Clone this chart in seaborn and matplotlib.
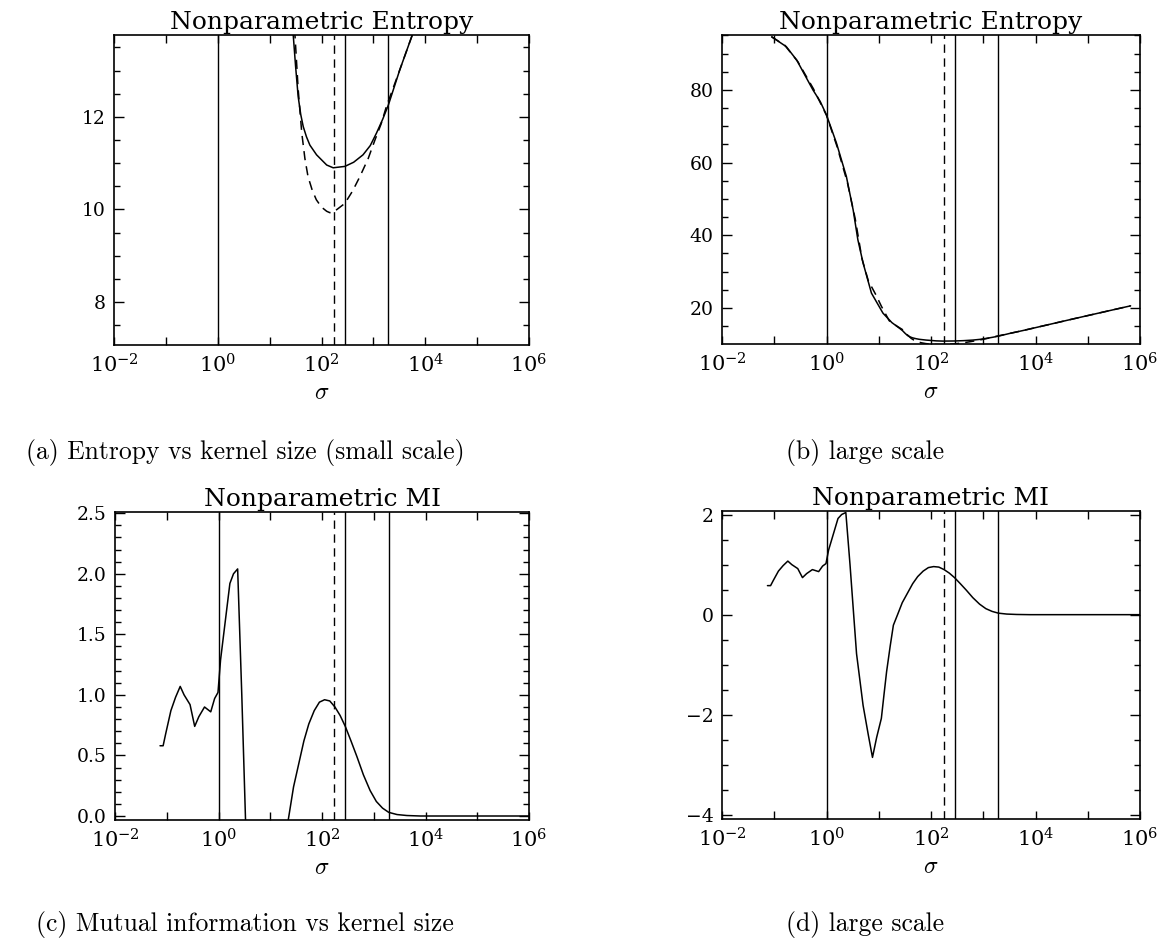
import matplotlib
matplotlib.use("Agg")
import matplotlib.pyplot as plt
import numpy as np
import pandas as pd
import seaborn as sns
from matplotlib.ticker import MultipleLocator, FixedLocator, FixedFormatter, FormatStrFormatter

# ---------------- data (log10 sigma) ----------------
ent_log_sigma = [-1.05, -0.77, -0.57, -0.26, -0.12, 0.00, 0.19, 0.38, 0.51, 0.60,
                 0.70, 0.86, 1.08, 1.25, 1.40, 1.455, 1.50, 1.55, 1.60, 1.648,
                 1.71, 1.776, 1.905, 2.10, 2.225, 2.45, 2.62, 2.80, 2.94, 3.06,
                 3.18, 3.29, 3.51, 3.75, 4.00, 4.72, 5.30, 5.82]
ent_solid = [94.6, 91.9, 88.2, 80.0, 76.8, 73.1, 65.4, 56.2, 47.0, 38.8,
             32.4, 24.1, 18.6, 16.0, 14.4, 13.77, 13.1, 12.44, 12.05, 11.79,
             11.57, 11.39, 11.18, 10.96, 10.90, 10.93, 11.02, 11.18, 11.38, 11.65,
             11.95, 12.26, 13.02, 13.77, 14.6, 17.0, 18.9, 20.6]

ent_dash_log_sigma = [-1.05, -0.80, -0.55, -0.25, 0.00, 0.20, 0.40, 0.55, 0.68, 0.80,
                      0.95, 1.05, 1.20, 1.35, 1.49, 1.55, 1.62, 1.68, 1.74, 1.82,
                      1.90, 2.00, 2.10, 2.16, 2.24, 2.45, 2.60, 2.74, 2.90, 3.03,
                      3.15, 3.25, 3.51, 3.75, 4.00, 4.72, 5.30, 5.82]
ent_dashed = [94.6, 92.3, 87.8, 80.3, 73.0, 64.5, 54.5, 44.5, 33.5, 27.5,
              23.5, 20.5, 16.5, 15.0, 13.74, 12.6, 11.65, 11.1, 10.71, 10.42,
              10.21, 10.05, 9.96, 9.93, 9.95, 10.13, 10.40, 10.71, 11.10, 11.50,
              11.85, 12.22, 13.02, 13.77, 14.6, 17.0, 18.9, 20.6]

mi_log_sigma = [-1.13, -1.07, -1.02, -0.92, -0.83, -0.74, -0.665, -0.55, -0.46, -0.38,
                -0.27, -0.15, -0.075, -0.01, 0.04, 0.14, 0.22, 0.29, 0.37, 0.45,
                0.52, 0.575, 0.70, 0.80, 0.88, 0.96, 1.05, 1.10, 1.15, 1.22,
                1.28, 1.36, 1.45, 1.55, 1.65, 1.745, 1.85, 1.95, 2.05, 2.15,
                2.25, 2.35, 2.45, 2.56, 2.675, 2.80, 2.93, 3.05, 3.17, 3.29,
                3.45, 3.64, 3.90, 5.00, 6.00]
mi_values = [0.58, 0.58, 0.68, 0.87, 0.98, 1.07, 1.00, 0.92, 0.74, 0.82,
             0.90, 0.86, 0.97, 1.02, 1.29, 1.64, 1.92, 2.00, 2.04, 1.00,
             0.00, -0.78, -1.81, -2.40, -2.85, -2.45, -2.07, -1.60, -1.14, -0.62,
             -0.21, 0.00, 0.24, 0.43, 0.62, 0.76, 0.87, 0.94, 0.96, 0.95,
             0.90, 0.83, 0.74, 0.62, 0.49, 0.34, 0.21, 0.12, 0.065, 0.03,
             0.012, 0.004, 0.0, 0.0, 0.0]

# kernel size markers (log10 sigma)
marks_solid = [0.0, 2.45, 3.29]
marks_dashed = [2.24]

decades = list(range(-2, 7))
decade_labels = [r'$\mathregular{10^{%d}}$' % k if k % 2 == 0 else '' for k in decades]

captions = ["(a) Entropy vs kernel size (small scale)", "(b) large scale",
            "(c) Mutual information vs kernel size", "(d) large scale"]

# ---------------- style ----------------
sns.set_style("ticks")
plt.rcParams['font.family'] = ['DejaVu Serif']
plt.rcParams['mathtext.fontset'] = 'cm'
plt.rcParams['axes.linewidth'] = 1.2
for key in ['text.color', 'axes.labelcolor', 'xtick.color', 'ytick.color', 'axes.edgecolor']:
    plt.rcParams[key] = 'black'

dash = (0, (6, 4))

ent_df = pd.DataFrame({"sigma": 10 ** np.array(ent_log_sigma), "H": ent_solid})
ent_dash_df = pd.DataFrame({"sigma": 10 ** np.array(ent_dash_log_sigma), "H": ent_dashed})
mi_df = pd.DataFrame({"sigma": 10 ** np.array(mi_log_sigma), "MI": mi_values})

fig = plt.figure(figsize=(11.73, 9.51), dpi=100)
W, H = 1173, 951


def add_ax(left, right, top, bottom):
    return fig.add_axes([left / W, 1 - bottom / H, (right - left) / W, (bottom - top) / H])


def style_panel(ax, ylim, major, minor, title):
    ax.set_xscale("log")
    ax.set_xlim(1e-2, 1e6)
    ax.set_ylim(*ylim)
    ax.xaxis.set_major_locator(FixedLocator([10.0 ** k for k in decades]))
    ax.xaxis.set_major_formatter(FixedFormatter(decade_labels))
    ax.xaxis.set_minor_locator(FixedLocator([]))
    ax.yaxis.set_major_locator(MultipleLocator(major))
    ax.yaxis.set_minor_locator(MultipleLocator(minor))
    ax.tick_params(which="both", direction="in", top=True, right=True, color="k", width=1)
    ax.tick_params(which="major", length=7)
    ax.tick_params(which="minor", length=4)
    ax.tick_params(axis="x", which="major", length=6, labelsize=15, pad=6)
    ax.tick_params(axis="y", labelsize=13.5, pad=6)
    for s in ax.spines.values():
        s.set_visible(True)
        s.set_color("k")
    ax.set_title(title, fontsize=18, pad=4)
    ax.set_xlabel(r"$\sigma$", fontsize=17, labelpad=3)
    ax.set_ylabel("")
    for m in marks_solid:
        ax.axvline(10 ** m, color="k", lw=1.0)
    for m in marks_dashed:
        ax.axvline(10 ** m, color="k", lw=1.0, ls=dash)


def entropy_curves(ax):
    sns.lineplot(data=ent_df, x="sigma", y="H", ax=ax, color="k", lw=1.1,
                 estimator=None, sort=False)
    sns.lineplot(data=ent_dash_df, x="sigma", y="H", ax=ax, color="k", lw=1.1,
                 estimator=None, sort=False)
    ax.lines[-1].set_linestyle(dash)


def mi_curve(ax):
    sns.lineplot(data=mi_df, x="sigma", y="MI", ax=ax, color="k", lw=1.1,
                 estimator=None, sort=False)


ax_a = add_ax(114, 529, 35, 345)
entropy_curves(ax_a)
style_panel(ax_a, (7.07, 13.77), 2, 0.5, "Nonparametric Entropy")

ax_b = add_ax(722, 1140, 35, 344)
entropy_curves(ax_b)
style_panel(ax_b, (10.1, 95.1), 20, 5, "Nonparametric Entropy")

ax_c = add_ax(115, 529, 512, 820)
mi_curve(ax_c)
style_panel(ax_c, (-0.033, 2.51), 0.5, 0.1, "Nonparametric MI")
ax_c.yaxis.set_major_formatter(FormatStrFormatter("%.1f"))

ax_d = add_ax(722, 1140, 511, 819)
mi_curve(ax_d)
style_panel(ax_d, (-4.08, 2.07), 2, 0.5, "Nonparametric MI")

# sub-figure captions
cap_pos = [(245, 453), (865, 453), (245, 925), (865, 925)]
for (cx, cy), txt in zip(cap_pos, captions):
    fig.text(cx / W, 1 - cy / H, txt, family="cmr10", fontsize=18.5,
             ha="center", va="center")

fig.savefig("out.png", dpi=100, facecolor="white")
